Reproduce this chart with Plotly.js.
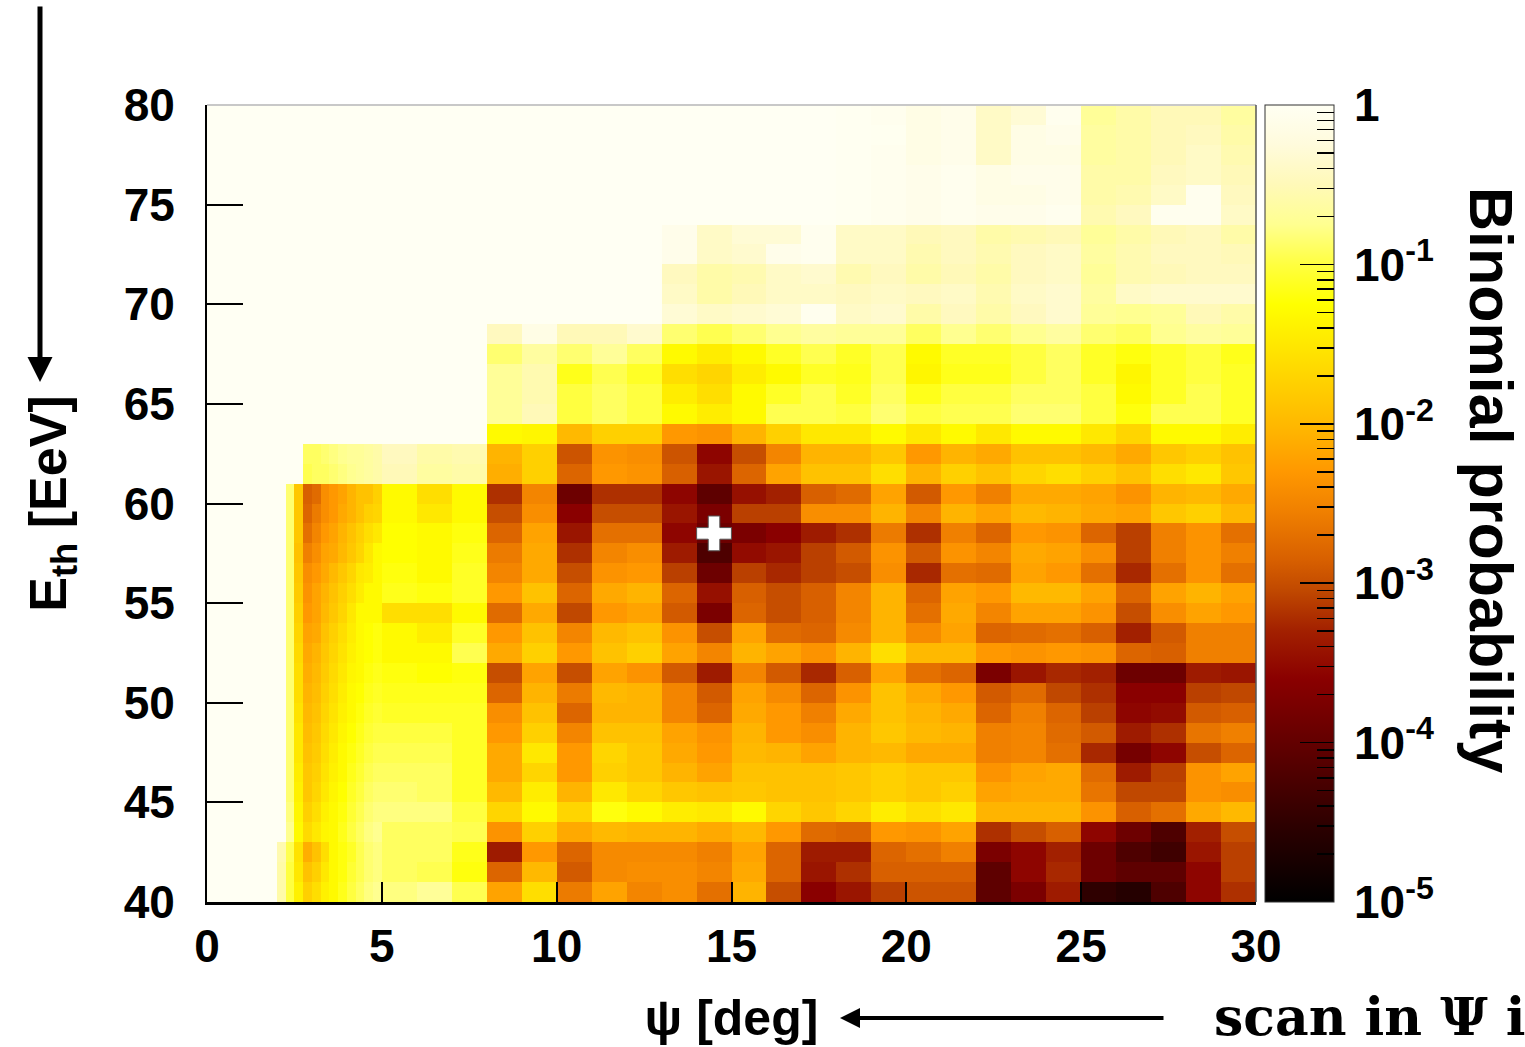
<!DOCTYPE html>
<html><head><meta charset="utf-8">
<script src="https://cdn.plot.ly/plotly-3.0.1.min.js"></script>
<style>html,body{margin:0;padding:0;background:#fff}</style>
</head><body><div id="chart" style="width:1525px;height:1047px"></div>
<script>
// Bin edges: psi in 0.25 deg bins up to 5 deg, then 1 deg bins; E_th in 1 EeV bins
const psiEdges = [0,0.25,0.5,0.75,1,1.25,1.5,1.75,2,2.25,2.5,2.75,3,3.25,3.5,3.75,4,4.25,4.5,4.75,5,
  6,7,8,9,10,11,12,13,14,15,16,17,18,19,20,21,22,23,24,25,26,27,28,29,30];
const ethEdges = [40,41,42,43,44,45,46,47,48,49,50,51,52,53,54,55,56,57,58,59,60,
  61,62,63,64,65,66,67,68,69,70,71,72,73,74,75,76,77,78,79,80];

// log10(binomial probability), psi 0..5 deg in 0.25 deg bins (rows: E_th 40-41 ... 79-80)
const fineLogP = [
[0,0,0,0,0,0,0,0,-0.6,-1.0,-1.4,-1.75,-1.6,-1.4,-1.3,-1.15,-1.0,-0.9,-0.8,-0.75],
[0,0,0,0,0,0,0,0,-0.6,-1.0,-1.5,-1.9,-1.75,-1.5,-1.3,-1.2,-1.05,-0.95,-0.85,-0.8],
[0,0,0,0,0,0,0,0,-0.55,-0.95,-1.55,-2.1,-1.9,-1.6,-1.3,-1.2,-1.1,-0.95,-0.85,-0.8],
[0,0,0,0,0,0,0,0,0,-0.75,-1.3,-1.65,-1.5,-1.35,-1.3,-1.15,-1.0,-0.9,-0.8,-0.75],
[0,0,0,0,0,0,0,0,0,-0.8,-1.35,-1.75,-1.6,-1.4,-1.3,-1.2,-1.05,-0.95,-0.85,-0.8],
[0,0,0,0,0,0,0,0,0,-0.85,-1.4,-1.85,-1.7,-1.5,-1.35,-1.25,-1.1,-1.0,-0.9,-0.85],
[0,0,0,0,0,0,0,0,0,-0.85,-1.45,-1.85,-1.75,-1.55,-1.4,-1.3,-1.15,-1.05,-0.95,-0.9],
[0,0,0,0,0,0,0,0,0,-0.85,-1.5,-1.9,-1.8,-1.6,-1.45,-1.3,-1.2,-1.1,-1.0,-0.95],
[0,0,0,0,0,0,0,0,0,-0.85,-1.5,-1.95,-1.85,-1.65,-1.5,-1.35,-1.25,-1.15,-1.05,-1.0],
[0,0,0,0,0,0,0,0,0,-0.85,-1.55,-2.0,-1.9,-1.7,-1.55,-1.4,-1.3,-1.2,-1.1,-1.05],
[0,0,0,0,0,0,0,0,0,-0.85,-1.6,-2.05,-1.95,-1.75,-1.6,-1.45,-1.3,-1.25,-1.15,-1.1],
[0,0,0,0,0,0,0,0,0,-0.85,-1.6,-2.1,-2.0,-1.8,-1.65,-1.5,-1.35,-1.3,-1.2,-1.15],
[0,0,0,0,0,0,0,0,0,-0.85,-1.65,-2.15,-2.05,-1.85,-1.7,-1.55,-1.4,-1.3,-1.25,-1.2],
[0,0,0,0,0,0,0,0,0,-0.85,-1.7,-2.2,-2.15,-1.9,-1.75,-1.6,-1.45,-1.3,-1.25,-1.2],
[0,0,0,0,0,0,0,0,0,-0.85,-1.75,-2.3,-2.2,-2.0,-1.85,-1.7,-1.5,-1.3,-1.3,-1.3],
[0,0,0,0,0,0,0,0,0,-0.85,-1.8,-2.35,-2.2,-2.05,-1.9,-1.75,-1.6,-1.45,-1.3,-1.3],
[0,0,0,0,0,0,0,0,0,-0.85,-1.85,-2.4,-2.3,-2.15,-2.0,-1.85,-1.7,-1.5,-1.45,-1.3],
[0,0,0,0,0,0,0,0,0,-0.85,-1.9,-2.55,-2.4,-2.2,-2.15,-2.0,-1.85,-1.7,-1.5,-1.3],
[0,0,0,0,0,0,0,0,0,-0.85,-1.85,-2.7,-2.5,-2.3,-2.2,-2.05,-1.9,-1.75,-1.6,-1.5],
[0,0,0,0,0,0,0,0,0,-0.85,-1.85,-2.8,-2.6,-2.4,-2.3,-2.15,-2.05,-1.9,-1.75,-1.7],
[0,0,0,0,0,0,0,0,0,-0.85,-1.85,-2.85,-2.75,-2.4,-2.3,-2.2,-2.05,-1.9,-1.9,-1.75],
[0,0,0,0,0,0,0,0,0,0,0,-0.95,-0.9,-0.9,-0.85,-0.8,-0.75,-0.7,-0.65,-0.6],
[0,0,0,0,0,0,0,0,0,0,0,-0.9,-0.9,-0.85,-0.8,-0.75,-0.7,-0.7,-0.65,-0.6],
[0,0,0,0,0,0,0,0,0,0,0,0,0,0,0,0,0,0,0,0],
[0,0,0,0,0,0,0,0,0,0,0,0,0,0,0,0,0,0,0,0],
[0,0,0,0,0,0,0,0,0,0,0,0,0,0,0,0,0,0,0,0],
[0,0,0,0,0,0,0,0,0,0,0,0,0,0,0,0,0,0,0,0],
[0,0,0,0,0,0,0,0,0,0,0,0,0,0,0,0,0,0,0,0],
[0,0,0,0,0,0,0,0,0,0,0,0,0,0,0,0,0,0,0,0],
[0,0,0,0,0,0,0,0,0,0,0,0,0,0,0,0,0,0,0,0],
[0,0,0,0,0,0,0,0,0,0,0,0,0,0,0,0,0,0,0,0],
[0,0,0,0,0,0,0,0,0,0,0,0,0,0,0,0,0,0,0,0],
[0,0,0,0,0,0,0,0,0,0,0,0,0,0,0,0,0,0,0,0],
[0,0,0,0,0,0,0,0,0,0,0,0,0,0,0,0,0,0,0,0],
[0,0,0,0,0,0,0,0,0,0,0,0,0,0,0,0,0,0,0,0],
[0,0,0,0,0,0,0,0,0,0,0,0,0,0,0,0,0,0,0,0],
[0,0,0,0,0,0,0,0,0,0,0,0,0,0,0,0,0,0,0,0],
[0,0,0,0,0,0,0,0,0,0,0,0,0,0,0,0,0,0,0,0],
[0,0,0,0,0,0,0,0,0,0,0,0,0,0,0,0,0,0,0,0],
[0,0,0,0,0,0,0,0,0,0,0,0,0,0,0,0,0,0,0,0]
];

// log10(binomial probability), psi 5..30 deg in 1 deg bins (rows: E_th 40-41 ... 79-80)
const coarseLogP = [
[-0.8,-0.7,-0.95, -2.2,-1.6,-2.6,-2.2,-2.5,-2.4,-2.7,-2.05, -3.0,-3.6,-3.4,-3.1,-2.95,-2.95,-4.05, -3.75,-3.35,-4.5,-4.6,-4.2,-3.55,-3.2],
[-0.9,-0.95,-1.2, -2.8,-2.0,-2.9,-2.45,-2.4,-2.4,-2.5,-2.15, -2.8,-3.4,-3.2,-2.85,-2.85,-2.85,-4.05, -3.55,-3.25,-3.9,-4.05,-4.05,-3.55,-3.1],
[-0.9,-0.9,-1.15, -3.35,-2.3,-2.8,-2.45,-2.45,-2.45,-2.55,-2.2, -2.8,-3.35,-3.35,-2.8,-2.7,-2.55,-3.75, -3.55,-3.3,-3.9,-4.2,-4.35,-3.4,-3.1],
[-0.9,-0.9,-0.95, -2.35,-1.75,-2.15,-2.0,-2.05,-2.05,-2.15,-2.0, -2.3,-2.75,-2.8,-2.3,-2.35,-2.2,-3.2, -3.0,-2.85,-3.55,-3.9,-4.2,-3.3,-3.0],
[-0.8,-0.8,-1.0, -1.7,-1.3,-1.7,-1.2,-1.3,-1.45,-1.5,-1.3, -1.7,-1.85,-1.7,-1.45,-1.6,-1.5,-2.05, -2.05,-2.05,-2.35,-2.85,-2.7,-2.15,-2.0],
[-0.85,-0.9,-1.1, -2.0,-1.45,-2.05,-1.5,-1.7,-1.85,-1.9,-1.85, -1.9,-1.9,-1.85,-1.75,-1.85,-1.75,-2.2, -2.15,-2.15,-2.65,-3.05,-3.05,-2.35,-2.4],
[-0.9,-0.9,-1.1, -2.15,-1.7,-2.3,-1.75,-1.85,-2.05,-2.2,-1.9, -1.9,-1.9,-1.85,-1.75,-1.85,-1.85,-2.35, -2.2,-2.15,-2.75,-3.35,-3.1,-2.35,-2.2],
[-0.95,-0.95,-1.1, -2.15,-1.5,-2.3,-1.7,-1.85,-2.15,-2.3,-2.0, -2.05,-2.2,-2.05,-2.0,-2.15,-2.15,-2.55, -2.5,-2.7,-3.25,-3.8,-3.55,-3.0,-2.8],
[-1.0,-1.0,-1.1, -2.3,-1.75,-2.5,-1.9,-1.9,-2.2,-2.35,-2.05, -2.3,-2.4,-2.05,-1.85,-2.0,-2.05,-2.55, -2.5,-2.75,-2.9,-3.35,-3.2,-2.65,-2.55],
[-1.1,-1.1,-1.1, -2.4,-1.9,-2.8,-2.05,-2.05,-2.5,-2.8,-2.15, -2.3,-2.55,-2.15,-1.9,-2.05,-2.15,-2.8, -2.55,-2.8,-3.1,-3.55,-3.5,-2.9,-2.85],
[-1.15,-1.15,-1.15, -2.8,-2.05,-2.6,-2.0,-2.05,-2.5,-2.9,-2.2, -2.45,-2.8,-2.35,-1.9,-2.15,-2.3,-2.9, -2.75,-3.05,-3.2,-3.6,-3.6,-3.1,-3.05],
[-1.2,-1.25,-1.2, -3.0,-2.2,-3.0,-2.2,-2.35,-2.9,-3.35,-2.5, -2.9,-3.25,-2.85,-2.2,-2.7,-2.8,-3.75, -3.4,-3.25,-3.3,-3.9,-3.9,-3.35,-3.4],
[-1.3,-1.3,-0.95, -2.15,-1.75,-2.3,-1.9,-1.75,-2.2,-2.5,-2.05, -2.2,-2.35,-2.05,-1.6,-2.0,-2.0,-2.3, -2.35,-2.3,-2.35,-2.8,-2.85,-2.55,-2.55],
[-1.3,-1.45,-1.1, -2.3,-1.9,-2.5,-2.0,-1.9,-2.35,-3.0,-2.2, -2.75,-2.8,-2.45,-2.05,-2.45,-2.2,-2.8, -2.75,-2.7,-2.85,-3.3,-2.9,-2.55,-2.55],
[-1.6,-1.6,-1.3, -2.75,-2.15,-3.05,-2.3,-2.2,-2.9,-3.75,-2.8, -3.0,-2.85,-2.5,-2.05,-2.7,-2.15,-2.5, -2.2,-2.2,-2.35,-3.0,-2.4,-2.2,-2.3],
[-1.15,-1.2,-1.1, -2.3,-1.9,-2.8,-2.15,-2.05,-2.8,-3.45,-2.85, -3.0,-2.85,-2.5,-2.05,-2.8,-2.2,-2.3, -2.0,-2.0,-2.2,-2.8,-2.2,-2.05,-2.2],
[-1.2,-1.3,-1.1, -2.5,-2.15,-3.0,-2.35,-2.3,-3.1,-3.9,-3.1, -3.25,-3.1,-3.0,-2.4,-3.25,-2.7,-2.75, -2.2,-2.3,-2.7,-3.25,-2.7,-2.35,-2.7],
[-1.25,-1.3,-1.15, -2.6,-2.15,-3.2,-2.5,-2.4,-3.35,-4.2,-3.5, -3.4,-3.1,-2.9,-2.35,-2.9,-2.35,-2.5, -2.15,-2.2,-2.4,-3.1,-2.55,-2.35,-2.55],
[-1.25,-1.3,-1.2, -2.8,-2.2,-3.4,-2.7,-2.7,-3.55,-3.9,-3.75, -3.6,-3.35,-3.2,-2.6,-3.2,-2.55,-2.8, -2.3,-2.35,-2.8,-3.1,-2.55,-2.35,-2.7],
[-1.3,-1.5,-1.3, -3.0,-2.4,-3.6,-3.0,-3.0,-3.4,-3.75,-3.1, -3.1,-2.4,-2.4,-2.05,-2.5,-2.05,-2.2, -2.0,-2.05,-2.15,-2.2,-1.85,-1.75,-2.0],
[-1.3,-1.6,-1.3, -3.2,-2.5,-3.9,-3.2,-3.2,-3.55,-4.05,-3.45, -3.3,-2.85,-2.75,-2.2,-2.9,-2.3,-2.55, -2.15,-2.15,-2.2,-2.35,-2.05,-2.0,-2.15],
[-0.5,-0.65,-0.6, -2.1,-1.75,-2.8,-2.3,-2.35,-2.85,-3.4,-2.8, -2.2,-1.9,-1.9,-1.6,-2.05,-1.75,-1.9, -1.7,-1.6,-1.75,-1.9,-1.6,-1.5,-1.85],
[-0.45,-0.6,-0.55, -2.05,-1.75,-2.95,-2.35,-2.4,-2.95,-3.55,-3.0, -2.5,-2.05,-2.05,-1.85,-2.3,-2.05,-2.15, -1.9,-1.9,-2.0,-2.15,-1.85,-1.75,-1.9],
[0,0,0, -1.3,-1.35,-2.0,-1.75,-1.75,-2.3,-2.35,-2.05, -1.75,-1.5,-1.5,-1.3,-1.5,-1.3,-1.5, -1.3,-1.3,-1.5,-1.7,-1.3,-1.3,-1.45],
[0,0,0, -0.7,-0.5,-1.0,-0.9,-1.0,-1.3,-1.45,-1.3, -0.95,-0.95,-1.0,-0.85,-1.0,-0.95,-0.95, -0.85,-0.85,-1.0,-1.2,-0.95,-0.95,-1.1],
[0,0,0, -0.7,-0.55,-1.0,-0.9,-1.0,-1.45,-1.6,-1.3, -1.1,-0.95,-1.1,-0.9,-1.15,-1.0,-1.0, -0.9,-0.9,-1.0,-1.3,-1.1,-0.95,-1.1],
[0,0,0, -0.7,-0.55,-1.15,-0.95,-1.1,-1.6,-1.7,-1.45, -1.3,-1.1,-1.15,-0.95,-1.35,-1.15,-1.15, -1.0,-0.9,-1.1,-1.35,-1.1,-1.0,-1.1],
[0,0,0, -0.85,-0.65,-0.85,-0.7,-0.9,-1.3,-1.45,-1.3, -1.1,-0.95,-1.1,-0.95,-1.3,-1.1,-1.1, -1.0,-0.9,-1.1,-1.2,-1.1,-1.0,-1.15],
[0,0,0, -0.45,-0.15,-0.5,-0.5,-0.35,-0.85,-0.95,-0.85, -0.75,-0.65,-0.7,-0.7,-0.9,-0.75,-0.85, -0.75,-0.65,-0.85,-0.9,-0.75,-0.65,-0.7],
[0,0,0, 0,0,0,0,0,-0.3,-0.4,-0.35, -0.3,-0.05,-0.4,-0.35,-0.6,-0.45,-0.6, -0.45,-0.35,-0.7,-0.75,-0.7,-0.5,-0.6],
[0,0,0, 0,0,0,0,0,-0.4,-0.6,-0.5, -0.4,-0.4,-0.45,-0.4,-0.45,-0.4,-0.55, -0.4,-0.35,-0.65,-0.4,-0.35,-0.35,-0.35],
[0,0,0, 0,0,0,0,0,-0.45,-0.6,-0.55, -0.4,-0.35,-0.55,-0.45,-0.6,-0.5,-0.6, -0.45,-0.4,-0.7,-0.55,-0.5,-0.45,-0.45],
[0,0,0, 0,0,0,0,0,-0.1,-0.4,-0.35, -0.1,-0.05,-0.4,-0.4,-0.55,-0.45,-0.55, -0.45,-0.4,-0.65,-0.55,-0.45,-0.45,-0.5],
[0,0,0, 0,0,0,0,0,-0.1,-0.4,-0.3, -0.3,-0.05,-0.4,-0.4,-0.5,-0.45,-0.6, -0.55,-0.5,-0.7,-0.6,-0.5,-0.45,-0.6],
[0,0,0, 0,0,0,0,0,0,0,0, 0,0,-0.02,-0.05,-0.1,-0.05,-0.1, -0.1,-0.05,-0.55,-0.45,-0.05,-0.05,-0.4],
[0,0,0, 0,0,0,0,0,0,0,0, 0,0,-0.02,-0.05,-0.1,-0.05,-0.15, -0.15,-0.1,-0.6,-0.55,-0.4,-0.05,-0.45],
[0,0,0, 0,0,0,0,0,0,0,0, 0,0,-0.02,-0.05,-0.1,-0.05,-0.15, -0.1,-0.1,-0.6,-0.6,-0.45,-0.4,-0.5],
[0,0,0, 0,0,0,0,0,0,0,0, 0,0,-0.02,-0.05,-0.15,-0.1,-0.4, -0.15,-0.15,-0.65,-0.6,-0.5,-0.4,-0.55],
[0,0,0, 0,0,0,0,0,0,0,0, 0,0,-0.02,-0.03,-0.15,-0.1,-0.4, -0.15,-0.1,-0.65,-0.6,-0.5,-0.45,-0.6],
[0,0,0, 0,0,0,0,0,0,0,0, 0,0,-0.02,-0.05,-0.15,-0.1,-0.4, -0.3,-0.05,-0.7,-0.6,-0.5,-0.5,-0.65]
];

// best-scan point marker
const bestPsi = [14.5];
const bestEth = [58.5];

// colour bar ticks (log10 of probability) and labels
const cbMajorLog = [-5, -4, -3, -2, -1, 0];
const cbTickVals = [1e-5, 1e-4, 1e-3, 1e-2, 1e-1, 1];
const cbTickText = ['10<sup>-5</sup>','10<sup>-4</sup>','10<sup>-3</sup>','10<sup>-2</sup>','10<sup>-1</sup>','1'];

const zLog = fineLogP.map((row, i) => row.concat(coarseLogP[i]));
const cbMinorLog = [];
for (let d = -5; d < 0; d++) for (let k = 2; k <= 9; k++) cbMinorLog.push(d + Math.log10(k));

const colorscale = [
  [0.00, '#000000'], [0.09, '#2a0000'], [0.19, '#5e0000'], [0.28, '#8a0000'],
  [0.34, '#a22000'], [0.39, '#c04800'], [0.43, '#d86000'], [0.49, '#f08000'],
  [0.54, '#ff9800'], [0.59, '#ffb400'], [0.65, '#ffd000'], [0.70, '#ffe800'],
  [0.75, '#ffff00'], [0.80, '#ffff40'], [0.85, '#ffff90'], [0.90, '#fff9b8'],
  [0.95, '#fffbdc'], [1.00, '#fffff3']
];
const clearScale = [[0, 'rgba(0,0,0,0)'], [1, 'rgba(0,0,0,0)']];

const FONT = 'Liberation Sans, Arial, Helvetica, sans-serif';
const bold = (size) => ({family: FONT, size: size, color: '#000', weight: 'bold'});

// paper geometry
const W = 1525, H = 1047, ML = 207, MR = 180, MT = 105, MB = 145;
const PW = W - ML - MR, PH = H - MT - MB;
const px2x = (px) => (px - ML) / PW;
const px2y = (py) => (H - MB - py) / PH;
const xDomainEnd = 1049 / PW;

const cbGeom = {
  x: px2x(1265), xanchor: 'left', y: 0.5, yanchor: 'middle',
  len: 1, lenmode: 'fraction', thickness: 69, thicknessmode: 'pixels',
  xpad: 0, ypad: 0, showticklabels: false, tickmode: 'array'
};

const traces = [
  {
    type: 'heatmap', x: psiEdges, y: ethEdges, z: zLog,
    zmin: -5, zmax: 0, colorscale: colorscale, zsmooth: false,
    hoverinfo: 'skip',
    colorbar: Object.assign({}, cbGeom, {
      outlinewidth: 1, outlinecolor: '#333',
      tickvals: cbMajorLog, ticks: 'inside', ticklen: 34, tickwidth: 1.5, tickcolor: '#000'
    })
  },
  {
    // transparent overlay colour bar carrying the minor (2..9 x 10^n) ticks
    type: 'scatter', x: bestPsi, y: bestEth, mode: 'markers', hoverinfo: 'skip', showlegend: false,
    marker: {
      size: 1, color: [-2], cmin: -5, cmax: 0, colorscale: clearScale, showscale: true,
      colorbar: Object.assign({}, cbGeom, {
        outlinewidth: 0, bgcolor: 'rgba(0,0,0,0)',
        tickvals: cbMinorLog, ticks: 'inside', ticklen: 17, tickwidth: 1.5, tickcolor: '#000'
      })
    }
  },
  {
    type: 'scatter', x: bestPsi, y: bestEth, mode: 'markers', hoverinfo: 'skip',
    marker: {symbol: 'cross', size: 29, color: '#ffffff', line: {color: '#555', width: 1}},
    showlegend: false
  },
  {
    type: 'scatter', x: [null], y: [null], xaxis: 'x', yaxis: 'y2', mode: 'markers',
    hoverinfo: 'skip', showlegend: false
  }
];

const layout = {
  width: W, height: H,
  margin: {l: ML, r: MR, t: MT, b: MB, pad: 0},
  paper_bgcolor: '#ffffff', plot_bgcolor: '#ffffff',
  showlegend: false,
  xaxis: {
    domain: [0, xDomainEnd], range: [0, 30], tick0: 0, dtick: 5,
    ticks: 'inside', ticklen: 20, tickwidth: 2, tickcolor: '#000',
    showline: true, linewidth: 2.5, linecolor: '#000', mirror: false,
    showgrid: false, zeroline: false,
    tickfont: bold(46), ticklabelstandoff: 2,
    title: {text: 'ψ [deg]', font: bold(50), standoff: 30}
  },
  yaxis: {
    range: [40, 80], tick0: 40, dtick: 5,
    ticks: 'inside', ticklen: 36, tickwidth: 2, tickcolor: '#000',
    showline: true, linewidth: 2, linecolor: '#000',
    showgrid: false, zeroline: false,
    tickfont: bold(46), ticklabelstandoff: 21,
    title: {text: 'E<sub>th</sub> [EeV]', font: bold(52), standoff: 40}
  },
  yaxis2: {
    type: 'log', overlaying: 'y', anchor: 'free', position: px2x(1334), side: 'right',
    range: [-5, 0], tickmode: 'array', tickvals: cbTickVals, ticktext: cbTickText,
    ticks: '', showline: false, showgrid: false, zeroline: false,
    tickfont: bold(46), ticklabelstandoff: 19
  },
  shapes: [
    {type: 'line', xref: 'paper', yref: 'paper', x0: 0, x1: xDomainEnd, y0: 1, y1: 1, line: {color: '#c8c8c8', width: 2}},
    {type: 'line', xref: 'paper', yref: 'paper', x0: xDomainEnd, x1: xDomainEnd, y0: 0, y1: 1, line: {color: '#555555', width: 1.5}}
  ],
  annotations: [
    {xref: 'paper', yref: 'paper', x: px2x(1491), y: px2y(480), text: 'Binomial probability',
     textangle: 90, showarrow: false, font: bold(61), xanchor: 'center', yanchor: 'middle'},
    {xref: 'paper', yref: 'paper', x: px2x(40), y: px2y(382), text: '', showarrow: true,
     ax: 0, ay: -377, arrowhead: 2, arrowsize: 1, arrowwidth: 5, arrowcolor: '#000'},
    {xref: 'paper', yref: 'paper', x: px2x(840), y: px2y(1018), text: '', showarrow: true,
     ax: 325, ay: 0, arrowhead: 2, arrowsize: 1, arrowwidth: 4, arrowcolor: '#000'},
    {xref: 'paper', yref: 'paper', x: px2x(1212), y: px2y(1016), text: 'scan in Ψ i',
     showarrow: false, xanchor: 'left', yanchor: 'middle',
     font: {family: 'DejaVu Serif, Liberation Serif, serif', size: 52, color: '#000', weight: 'bold'}}
  ]
};

Plotly.newPlot('chart', traces, layout, {staticPlot: true, displayModeBar: false});
</script>
</body></html>
